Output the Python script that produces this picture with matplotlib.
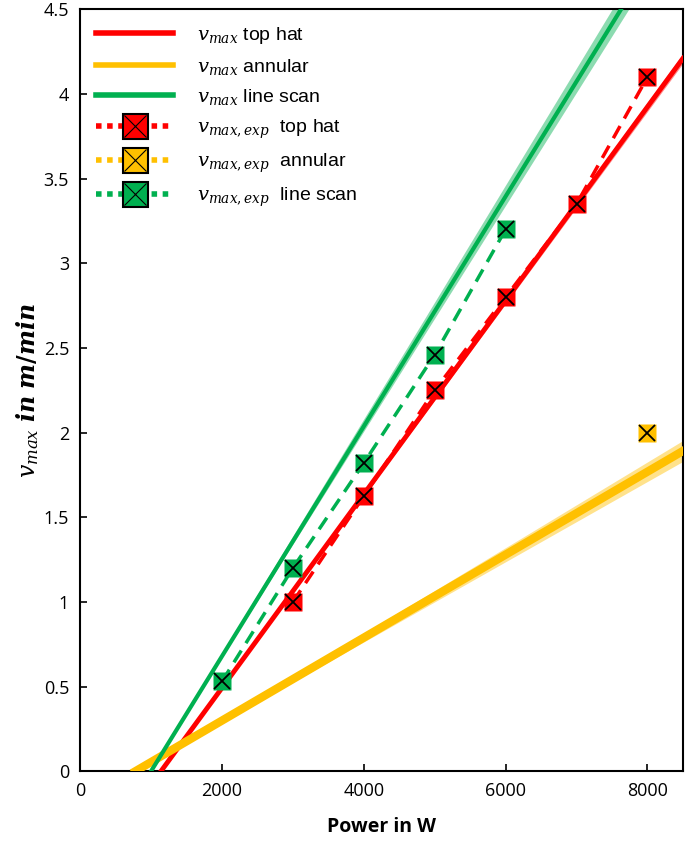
import numpy as np
import matplotlib
matplotlib.use('Agg')
import matplotlib.pyplot as plt
from matplotlib.lines import Line2D

plt.rcParams['mathtext.fontset'] = 'dejavuserif'
plt.rcParams['font.family'] = ['Open Sans', 'DejaVu Sans']

# model lines v = k * (P - P0), band k_lo..k_hi
names = ['top hat', 'annular', 'line scan']
colors = ['#FF0000', '#FFC000', '#00B050']
P0 = [1140, 780, 1000]
k_mid = [0.000572, 0.000245, 0.000679]
k_err = [0.000004, 0.000008, 0.000012]

# experiments
P_top = [3000, 4000, 5000, 6000, 7000, 8000]
v_top = [1.0, 1.625, 2.25, 2.8, 3.35, 4.1]
P_ann = [8000]
v_ann = [2.0]
P_lin = [2000, 3000, 4000, 5000, 6000]
v_lin = [0.53, 1.2, 1.82, 2.46, 3.2]

fig = plt.figure(figsize=(6.85, 8.41), dpi=100)
ax = fig.add_axes([0.117, 0.083, 0.88, 0.906])

line_w = [3.5, 6, 3]
for i in range(3):
    P = np.linspace(P0[i], 8500, 200)
    lo = (k_mid[i] - k_err[i]) * (P - P0[i])
    hi = (k_mid[i] + k_err[i]) * (P - P0[i])
    ax.fill_between(P, lo, hi, color=colors[i], alpha=0.45, lw=0, zorder=2)
    ax.plot(P, k_mid[i] * (P - P0[i]), color=colors[i], lw=line_w[i], zorder=3)

exps = [(P_top, v_top), (P_ann, v_ann), (P_lin, v_lin)]
for i, (P, v) in enumerate(exps):
    ax.plot(P, v, color=colors[i], lw=2.5, ls=(0, (4, 2.5)), zorder=4)
    ax.plot(P, v, ls='none', marker='s', ms=13, mfc=colors[i], mec='none', zorder=5)
    ax.plot(P, v, ls='none', marker='x', ms=12, mec='black', mew=1.3, zorder=6)

ax.set_xlim(0, 8500)
ax.set_ylim(0, 4.5)
ax.set_xticks([0, 2000, 4000, 6000, 8000])
ax.set_yticks(np.arange(0, 4.51, 0.5))
ax.set_yticklabels(['0', '0.5', '1', '1.5', '2', '2.5', '3', '3.5', '4', '4.5'])
ax.tick_params(direction='in', labelsize=13, length=5, width=1.2, pad=8)
for s in ax.spines.values():
    s.set_linewidth(1.5)

ax.set_xlabel('Power in W', fontsize=14, fontweight='bold', labelpad=12)
ax.set_ylabel(r'$\boldsymbol{v_{max}\ in\ m/min}$', fontsize=17, labelpad=2)

handles = []
labels = []
for i in range(3):
    handles.append(Line2D([], [], color=colors[i], lw=4))
    labels.append(r'$v_{max}$ ' + names[i])
for i in range(3):
    dots = Line2D([], [], color=colors[i], lw=4, ls=(0, (1, 1)))
    box = Line2D([], [], ls='none', marker='s', ms=18, mfc=colors[i], mec='black', mew=1.5)
    cross = Line2D([], [], ls='none', marker='x', ms=16, mec='black', mew=0.8)
    handles.append((dots, box, cross))
    labels.append(r'$v_{max,exp}$  ' + names[i])
leg = ax.legend(handles, labels, loc='upper left', frameon=False,
                prop={'family': 'Liberation Sans', 'size': 14},
                handlelength=4.0, labelspacing=0.55, borderaxespad=0.2,
                borderpad=0.6, handletextpad=1.2)
for t in leg.get_texts()[3:]:
    pass

plt.savefig('out.png', dpi=100)
